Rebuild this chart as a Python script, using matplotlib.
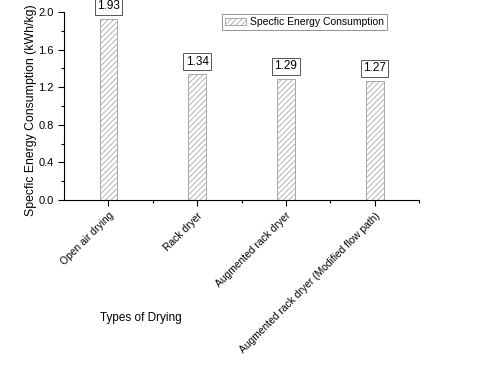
import matplotlib
matplotlib.use("Agg")
import matplotlib.pyplot as plt
from matplotlib.ticker import MultipleLocator, FixedLocator

plt.rcParams['font.family'] = ['Liberation Sans', 'DejaVu Sans']
plt.rcParams['hatch.color'] = '#9a9a9a'
plt.rcParams['hatch.linewidth'] = 0.6

categories = ["Open air drying", "Rack dryer", "Augmented rack dryer",
              "Augmented rack dryer (Modified flow path)"]
values = [1.93, 1.34, 1.29, 1.27]
series_name = "Specfic Energy Consumption"

fig = plt.figure(figsize=(4.8, 3.68), dpi=100)
ax = fig.add_axes([64/480, 1-200/368, (419-64)/480, (200-12)/368])

x = list(range(1, len(categories) + 1))
bars = ax.bar(x, values, width=0.2, color='white', edgecolor='#a8a8a8',
              hatch='//////', linewidth=0.7, label=series_name)

for xi, v in zip(x, values):
    ax.annotate(f"{v:.2f}", (xi, v), xytext=(0, 4.5), textcoords='offset points',
                ha='center', va='bottom', fontsize=8.5,
                bbox=dict(boxstyle='square,pad=0.2', fc='white', ec='#555555', lw=0.7))

ax.set_xlim(0.5, 4.5)
ax.set_ylim(0, 2.0)
ax.yaxis.set_major_locator(MultipleLocator(0.4))
ax.yaxis.set_minor_locator(MultipleLocator(0.2))
ax.xaxis.set_major_locator(FixedLocator(x))
ax.xaxis.set_minor_locator(FixedLocator([1.5, 2.5, 3.5, 4.5]))
ax.set_xticklabels(categories, rotation=45, ha='right', rotation_mode='anchor', fontsize=7.4)
ax.yaxis.set_major_formatter(matplotlib.ticker.FormatStrFormatter('%.1f'))
ax.tick_params(axis='both', which='major', direction='out', length=4, width=0.8)
ax.tick_params(axis='y', labelsize=8)
ax.tick_params(axis='both', which='minor', direction='out', length=2, width=0.8)
ax.spines['top'].set_visible(False)
ax.spines['right'].set_visible(False)

ax.set_ylabel("Specfic Energy Consumption (kWh/kg)", fontsize=8.8)
ax.yaxis.set_label_coords(-(64-37)/355, (200-110)/188)
ax.set_xlabel("Types of Drying", fontsize=8.5)
ax.xaxis.set_label_coords((141-64)/355, -(312-200)/188)

leg = ax.legend(loc='upper left', bbox_to_anchor=((222-64)/355, 1.0 - 2/188), fontsize=7.5,
                frameon=True, fancybox=False, edgecolor='#777777', borderaxespad=0,
                handlelength=2.0, handleheight=0.8, borderpad=0.3, handletextpad=0.4)
leg.get_frame().set_linewidth(0.7)

fig.savefig("out.png", dpi=100)
